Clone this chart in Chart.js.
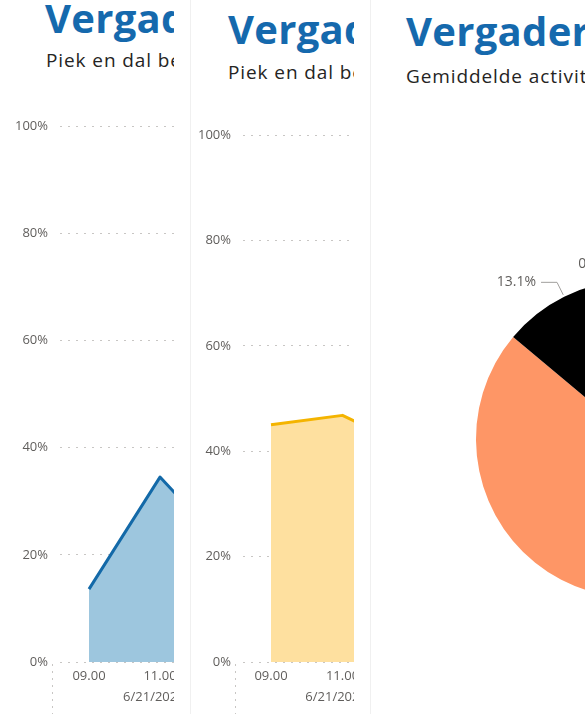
<!DOCTYPE html>
<html><head><meta charset="utf-8">
<script src="https://cdn.jsdelivr.net/npm/chart.js@4.4.1/dist/chart.umd.min.js"></script>
<style>
html,body{margin:0;padding:0;width:585px;height:714px;overflow:hidden;background:#fff;font-family:"Open Sans",sans-serif;}
.panel{position:absolute;top:0;height:714px;background:#fff;overflow:hidden;}
.clip{position:absolute;top:0;height:714px;overflow:hidden;}
.title{position:absolute;white-space:nowrap;color:#1569ad;font-weight:700;font-size:40px;line-height:1;letter-spacing:0.3px;}
.sub{position:absolute;white-space:nowrap;color:#252423;font-size:19px;line-height:1;letter-spacing:0.9px;}
.box{position:absolute;}
</style></head>
<body>
<div class="panel" style="left:0;width:190px;">
  <div class="clip" style="left:0;width:174px;">
    <div class="title" style="left:45px;top:-2px">Vergaderruimte bezetting</div>
    <div class="sub" style="left:46px;top:51px">Piek en dal bezetting</div>
    <div class="box" style="left:0;top:100px;width:290px;height:614px"><canvas id="c1"></canvas></div>
  </div>
</div>
<div class="panel" style="left:190px;width:179px;border-left:1px solid #f0f0f0;border-right:1px solid #f0f0f0;">
  <div class="clip" style="left:-1px;width:164px;">
    <div class="title" style="left:38px;top:9px">Vergaderruimte bezetting</div>
    <div class="sub" style="left:38px;top:63px">Piek en dal bezetting</div>
    <div class="box" style="left:0;top:100px;width:290px;height:614px"><canvas id="c2"></canvas></div>
  </div>
</div>
<div class="panel" style="left:370px;width:540px;border-left:1px solid #f0f0f0;">
  <div class="title" style="left:35px;top:11px">Vergaderruimte activiteit</div>
  <div class="sub" style="left:35px;top:67px">Gemiddelde activiteit per ruimte</div>
  <div class="box" style="left:-1px;top:120px;width:530px;height:638px"><canvas id="c3"></canvas></div>
</div>
<script>
// ---- data ----
const hourLabels = ["09.00", "11.00", "13.00"];
const dateLabel = "6/21/2021";
const peakValues = [13.6, 34.5, 20.3];     // panel 1 (%)
const peakValues2 = [45.0, 46.8, 40.3];    // panel 2 (%)
const yTicks = [0, 20, 40, 60, 80, 100];
const pieLabels = ["Ruimte A", "Ruimte B", "Ruimte C", "Ruimte D"];
const pieValues = [10.5, 75.6, 13.1, 0.8];
const pieColors = ["#01B8AA", "#FE9666", "#000000", "#A66999"];

Chart.defaults.font.family = "'Open Sans', sans-serif";
Chart.defaults.animation = false;

const sepPlugin = {
  id: 'sep',
  afterDraw(chart) {
    const {ctx, chartArea} = chart;
    const xs = chart.scales.x;
    ctx.save();
    ctx.strokeStyle = '#c8c6c4';
    ctx.lineWidth = 1;
    ctx.setLineDash([2, 5]);
    ctx.beginPath();
    ctx.moveTo(chartArea.left - 7.5, chartArea.bottom + 2);
    ctx.lineTo(chartArea.left - 7.5, chart.height);
    ctx.stroke();
    ctx.setLineDash([]);
    ctx.fillStyle = '#605e5c';
    ctx.font = "13px 'Open Sans', sans-serif";
    ctx.textAlign = 'left';
    ctx.textBaseline = 'middle';
    ctx.fillText(dateLabel, xs.getPixelForValue(0.48), chartArea.bottom + 35);
    ctx.restore();
  }
};

function lineChart(id, values, lineColor, fillColor, axisW, firstOffset, spacing, topPad) {
  const boxW = 290;
  const span = boxW - axisW;
  const min = -firstOffset / spacing;
  const max = min + span / spacing;
  return new Chart(document.getElementById(id), {
    type: 'line',
    data: {
      datasets: [{
        data: values.map((v, i) => ({x: i, y: v})),
        borderColor: lineColor,
        backgroundColor: fillColor,
        borderWidth: 3,
        fill: 'origin',
        pointRadius: 0,
        tension: 0,
        borderJoinStyle: 'round'
      }]
    },
    options: {
      responsive: true,
      maintainAspectRatio: false,
      layout: {padding: {top: topPad, right: 0, bottom: 0, left: 0}},
      plugins: {legend: {display: false}, tooltip: {enabled: false}},
      scales: {
        x: {
          type: 'linear', min, max,
          afterBuildTicks: s => { s.ticks = hourLabels.map((_, i) => ({value: i})); },
          afterFit: s => { s.height = 52; },
          grid: {display: false, drawTicks: false},
          border: {display: false},
          ticks: {callback: v => hourLabels[v], color: '#605e5c', font: {size: 13}, padding: 6, maxRotation: 0, autoSkip: false}
        },
        y: {
          min: 0, max: 100,
          afterBuildTicks: s => { s.ticks = yTicks.map(v => ({value: v})); },
          afterFit: s => { s.width = axisW; },
          grid: {color: '#c8c6c4', lineWidth: 1, drawTicks: false},
          border: {display: false, dash: [2, 6]},
          ticks: {callback: v => v + '%', color: '#605e5c', font: {size: 13}, padding: 12}
        }
      }
    },
    plugins: [sepPlugin]
  });
}

lineChart('c1', peakValues, '#1369a8', '#9dc6de', 60, 29, 71, 26);
lineChart('c2', peakValues2, '#f4b400', '#fee09f', 53, 28, 71.5, 35);

const pieLabelPlugin = {
  id: 'pieLabels',
  afterDatasetsDraw(chart) {
    const {ctx} = chart;
    const meta = chart.getDatasetMeta(0);
    const data = chart.data.datasets[0].data;
    ctx.save();
    ctx.strokeStyle = '#a19f9d';
    ctx.lineWidth = 1;
    ctx.fillStyle = '#605e5c';
    ctx.font = "14px 'Open Sans', sans-serif";
    ctx.textBaseline = 'middle';
    meta.data.forEach((arc, i) => {
      const p = arc.getProps(['x', 'y', 'startAngle', 'endAngle', 'outerRadius'], true);
      const mid = (p.startAngle + p.endAngle) / 2;
      const c = Math.cos(mid), s = Math.sin(mid);
      const x0 = p.x + c * (p.outerRadius + 2), y0 = p.y + s * (p.outerRadius + 2);
      const x1 = p.x + c * (p.outerRadius + 16), y1 = p.y + s * (p.outerRadius + 16);
      const dir = c >= 0 ? 1 : -1;
      const x2 = x1 + dir * 16;
      ctx.beginPath();
      ctx.moveTo(x0, y0); ctx.lineTo(x1, y1); ctx.lineTo(x2, y1);
      ctx.stroke();
      ctx.textAlign = dir > 0 ? 'left' : 'right';
      ctx.fillText(data[i].toFixed(1) + '%', x2 + dir * 5, y1);
    });
    ctx.restore();
  }
};

new Chart(document.getElementById('c3'), {
  type: 'pie',
  data: {labels: pieLabels, datasets: [{data: pieValues, backgroundColor: pieColors, borderWidth: 0}]},
  options: {
    responsive: true,
    maintainAspectRatio: false,
    layout: {padding: 106},
    plugins: {legend: {display: false}, tooltip: {enabled: false}}
  },
  plugins: [pieLabelPlugin]
});
</script>
</body></html>
